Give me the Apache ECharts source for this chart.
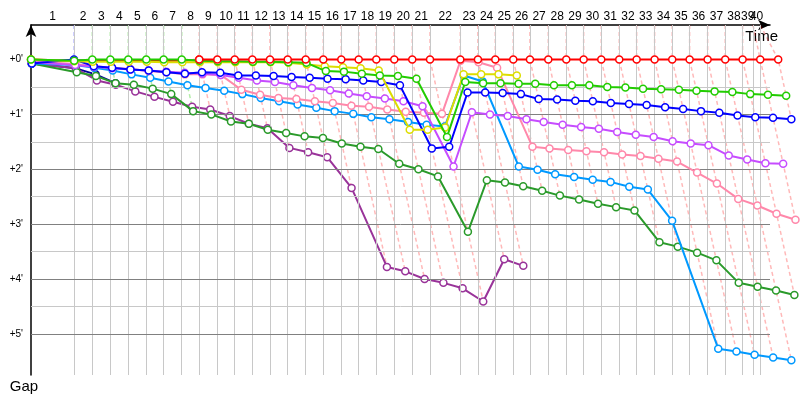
<!DOCTYPE html>
<html><head><meta charset="utf-8">
<script src="https://cdn.jsdelivr.net/npm/echarts@6/dist/echarts.min.js"></script>
<style>html,body{margin:0;padding:0;background:#fff}#c{width:800px;height:400px}</style>
</head><body><div id="c"></div>
<script>
// Leader's cumulative time (minutes) at the end of each lap, lap 0..40
const leaderTimes = [0,3.56,5.08,6.57,8.06,9.55,10.99,12.49,13.94,15.44,16.88,18.34,19.80,21.27,22.76,24.22,25.71,27.15,28.61,30.10,31.59,33.06,35.57,37.03,38.47,39.96,41.34,42.86,44.35,45.79,47.25,48.74,50.18,51.67,53.13,54.57,56.06,57.52,58.96,60.42,61.91];
// Lap marks on the time axis (vertical grid), laps 1..40
const lapMarks = [3.56,5.08,6.57,8.06,9.55,10.99,12.49,13.94,15.44,16.88,18.34,19.80,21.27,22.76,24.22,25.71,27.15,28.61,30.10,31.59,33.06,35.57,37.03,38.47,39.96,41.34,42.86,44.35,45.79,47.25,48.74,50.18,51.67,53.13,54.57,56.06,57.52,58.96,59.82,60.42];
const lapLabels = ['1','2','3','4','5','6','7','8','9','10','11','12','13','14','15','16','17','18','19','20','21','22','23','24','25','26','27','28','29','30','31','32','33','34','35','36','37','38','39','40'];
const gapTicks = [0,1,2,3,4,5];
const gapMinor = [0.5,1.5,2.5,3.5,4.5];

// Gaps to leader (minutes) per lap, starting at lap 0
const gapsNavy = [0.07,0.16,0.27,0.43];
const gapsPurple = [0.07,0.16,0.38,0.46,0.58,0.68,0.77,0.86,0.91,1.03,1.17,1.25,1.61,1.69,1.78,2.34,3.78,3.86,4.00,4.07,4.17,4.41,3.64,3.76];
const gapsDarkGreen = [0.07,0.23,0.30,0.43,0.46,0.53,0.63,0.94,1.00,1.13,1.17,1.28,1.34,1.40,1.43,1.53,1.59,1.63,1.90,2.00,2.13,3.14,2.20,2.24,2.31,2.39,2.48,2.55,2.63,2.69,2.75,3.33,3.41,3.52,3.66,4.07,4.14,4.21,4.29];
const gapsLightBlue = [0.07,0.10,0.15,0.20,0.27,0.33,0.40,0.47,0.52,0.57,0.63,0.70,0.76,0.82,0.88,0.94,0.99,1.05,1.09,1.14,1.19,1.22,0.29,0.40,1.95,2.01,2.09,2.14,2.19,2.23,2.32,2.37,2.94,5.27,5.32,5.38,5.43,5.48];
const gapsPink = [0.03,0.08,0.12,0.15,0.17,0.21,0.23,0.27,0.27,0.28,0.55,0.64,0.70,0.72,0.76,0.79,0.84,0.86,0.91,0.95,0.97,0.99,0.02,0.05,0.15,1.59,1.62,1.65,1.67,1.69,1.73,1.76,1.81,1.86,2.06,2.26,2.54,2.66,2.81,2.92];
const gapsViolet = [0.05,0.10,0.13,0.16,0.18,0.20,0.22,0.24,0.26,0.28,0.33,0.38,0.41,0.47,0.52,0.56,0.62,0.67,0.71,0.76,0.85,1.95,0.96,1.00,1.03,1.09,1.14,1.19,1.23,1.26,1.32,1.37,1.41,1.49,1.53,1.56,1.75,1.82,1.89,1.90];
const gapsBlue = [0.07,0,0.12,0.15,0.18,0.20,0.23,0.26,0.23,0.24,0.29,0.29,0.30,0.32,0.33,0.35,0.36,0.38,0.41,0.47,1.62,1.59,0.60,0.60,0.61,0.63,0.72,0.73,0.75,0.76,0.79,0.81,0.83,0.87,0.90,0.94,0.97,1.02,1.05,1.06,1.09];
const gapsYellow = [0,0.03,0.04,0.04,0.04,0.04,0.05,0.05,0.05,0.05,0.05,0.05,0.05,0.06,0.09,0.12,0.14,0.16,0.20,1.28,1.28,1.24,0.27,0.27,0.27,0.29];
const gapsGreen = [0,0.02,0,0,0,0,0,0,0.02,0.03,0.03,0.04,0.04,0.05,0.06,0.21,0.22,0.26,0.29,0.30,0.35,1.41,0.41,0.43,0.43,0.44,0.44,0.47,0.47,0.47,0.50,0.51,0.53,0.54,0.55,0.57,0.58,0.59,0.63,0.64,0.66];
const gapsRed = [0,0.02,0.02,0.02,0.02,0.02,0.02,0.02,0,0,0,0,0,0,0,0,0,0,0,0,0,0,0,0,0,0,0,0,0,0,0,0,0,0,0,0,0,0,0,0,0];
const redTakesLeadLap = 8;

const drivers = [
  {name:'Navy', color:'#000099', dash:'rgba(0,0,153,0.3)', gaps:gapsNavy},
  {name:'Purple', color:'#993399', dash:'rgba(153,51,153,0.3)', gaps:gapsPurple},
  {name:'DarkGreen', color:'#2a9a2a', dash:'rgba(42,154,42,0.3)', gaps:gapsDarkGreen},
  {name:'LightBlue', color:'#0099ff', dash:'rgba(0,153,255,0.3)', gaps:gapsLightBlue},
  {name:'Pink', color:'#ff88aa', dash:'rgba(255,136,170,0.4)', gaps:gapsPink},
  {name:'Violet', color:'#c64cff', dash:'rgba(198,76,255,0.3)', gaps:gapsViolet},
  {name:'Blue', color:'#0000ff', dash:'rgba(80,80,255,0.35)', gaps:gapsBlue},
  {name:'Yellow', color:'#dddd00', dash:'rgba(221,221,0,0.4)', gaps:gapsYellow},
  {name:'Green', color:'#22cc00', dash:'rgba(34,204,0,0.35)', gaps:gapsGreen},
  {name:'Red', color:'#ff0000', dash:'rgba(255,0,0,0.28)', gaps:gapsRed}
];

const GRID_L = 31, GRID_R = 30, GRID_T = 25, GRID_B = 25, W = 800;
const X_MIN = 0, X_MAX = 61.23, Y_MIN = -0.63, Y_MAX = 5.75;
// the data layer uses a wider grid with the same time scale so marks past the axis end are not clipped
const X_MAX_DATA = X_MAX * (W - GRID_L) / (W - GRID_L - GRID_R);

const labelPos = lapMarks.map((t,i) => ((i === 0 ? 0 : lapMarks[i-1]) + t) / 2);
const labelPosOdd = labelPos.filter((p,i) => i % 2 === 0);
const labelPosEven = labelPos.filter((p,i) => i % 2 === 1);
function lapLabelFor(v) {
  let best = 0, bd = Infinity;
  labelPos.forEach((p, i) => { const dd = Math.abs(p - v); if (dd < bd) { bd = dd; best = i; } });
  return lapLabels[best];
}

const series = [];

// grid lines
const gridLines = [];
lapMarks.forEach(t => gridLines.push({xAxis:t, lineStyle:{color:'#c8c8c8', width:1, type:'solid'}}));
gapMinor.forEach(g => gridLines.push({yAxis:g, lineStyle:{color:'#c8c8c8', width:1, type:'solid'}}));
gapTicks.forEach(g => gridLines.push({yAxis:g, lineStyle:{color:'#808080', width:1, type:'solid'}}));
series.push({
  type:'line', data:[], z:1, silent:true, xAxisIndex:0, yAxisIndex:0,
  markLine:{silent:true, symbol:['none','none'], label:{show:false}, animation:false, data:gridLines}
});

// constant-lap dashed lines
for (let n = 1; n < leaderTimes.length; n++) {
  let gmax = 0, lead = null, gmin = Infinity;
  drivers.forEach(d => {
    if (n < d.gaps.length) {
      const g = d.gaps[n];
      if (g > gmax) gmax = g;
      if (g < gmin) { gmin = g; lead = d; }
    }
  });
  const t = leaderTimes[n];
  series.push({
    type:'line', z:2, silent:true, symbol:'none', clip:false, animation:false,
    xAxisIndex:1, yAxisIndex:1,
    lineStyle:{color: lead.dash, width:1.5, type:[4,3]},
    data:[[lapMarks[n-1], Y_MIN],[t, 0],[t + gmax, gmax]]
  });
}

function driverSeries(d, z, data) {
  return {
    name:d.name, type:'line', z:z, clip:false, animation:false,
    xAxisIndex:1, yAxisIndex:1,
    symbol:'circle', symbolSize:7, showAllSymbol:true,
    lineStyle:{color:d.color, width:2},
    itemStyle:{color:'#ffffff', borderColor:d.color, borderWidth:1.5},
    emphasis:{disabled:true},
    data:data
  };
}

drivers.forEach((d, i) => {
  const pts = d.gaps.map((g, n) => [leaderTimes[n] + g, g]);
  if (d.name === 'Red') {
    // before taking the lead, red runs under the cars ahead of it
    series.push(driverSeries(d, 2.5, pts.slice(0, redTakesLeadLap + 1)));
    series.push(driverSeries(d, 3 + i, pts.slice(redTakesLeadLap)));
  } else {
    series.push(driverSeries(d, 3 + i, pts));
  }
});

const labelStyle = {fontFamily:'Liberation Sans', fontSize:12, color:'#000'};

const chart = echarts.init(document.getElementById('c'), null, {renderer:'canvas'});
chart.setOption({
  animation:false,
  backgroundColor:'#ffffff',
  grid:[
    {left:GRID_L, right:GRID_R, top:GRID_T, bottom:GRID_B, containLabel:false},
    {left:GRID_L, right:0, top:GRID_T, bottom:GRID_B, containLabel:false}
  ],
  xAxis:[{
    type:'value', gridIndex:0, position:'top', min:X_MIN, max:X_MAX,
    name:'Time', nameLocation:'end', nameGap:8,
    nameTextStyle:{fontFamily:'Liberation Sans', fontSize:15, color:'#000', align:'right', verticalAlign:'top', padding:[4,0,0,0]},
    axisLine:{show:true, onZero:false, symbol:['none','arrow'], symbolSize:[8,12], lineStyle:{color:'#000', width:1.5}},
    axisTick:{show:false},
    splitLine:{show:false},
    axisLabel:Object.assign({show:true, margin:2, customValues:labelPosOdd, hideOverlap:false, formatter:lapLabelFor}, labelStyle)
  },{
    type:'value', gridIndex:1, show:false, min:X_MIN, max:X_MAX_DATA
  },{
    type:'value', gridIndex:0, position:'top', offset:0, min:X_MIN, max:X_MAX,
    axisLine:{show:false}, axisTick:{show:false}, splitLine:{show:false},
    axisLabel:Object.assign({show:true, margin:2, customValues:labelPosEven, hideOverlap:false, formatter:lapLabelFor}, labelStyle)
  }],
  yAxis:[{
    type:'value', gridIndex:0, inverse:true, min:Y_MIN, max:Y_MAX,
    name:'Gap', nameLocation:'end', nameGap:4,
    nameTextStyle:{fontFamily:'Liberation Sans', fontSize:15, color:'#000', padding:[0,14,0,0]},
    axisLine:{show:true, onZero:false, symbol:['none','arrow'], symbolSize:[8,12], lineStyle:{color:'#000', width:1.5}},
    axisTick:{show:false},
    splitLine:{show:false},
    axisLabel:{
      show:true, margin:8, customValues:gapTicks,
      fontFamily:'Liberation Sans', fontSize:10, color:'#000',
      formatter:(v) => '+' + v + "'"
    }
  },{
    type:'value', gridIndex:1, show:false, inverse:true, min:Y_MIN, max:Y_MAX
  }],
  series:series
});
</script></body></html>
